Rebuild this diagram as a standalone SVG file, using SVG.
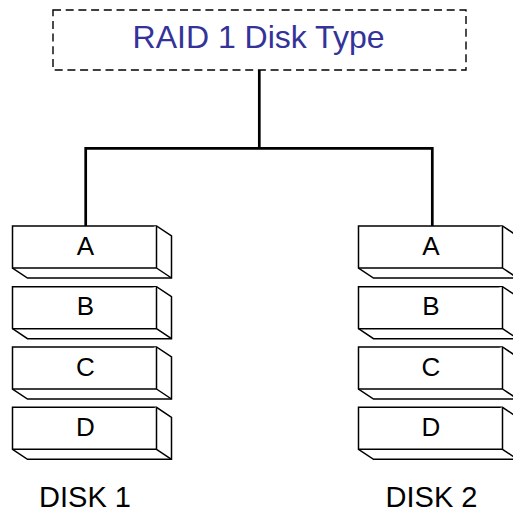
<svg xmlns="http://www.w3.org/2000/svg" width="513" height="514" viewBox="0 0 513 514">
<defs>
<style>
.blk{fill:#fff;stroke:#000;stroke-width:1.5;stroke-linejoin:miter}
.lbl{font-family:"Liberation Sans",Arial,sans-serif;font-size:26px;fill:#000;text-anchor:middle}
.cap{font-family:"Liberation Sans",Arial,sans-serif;font-size:29px;fill:#000;text-anchor:middle}
.conn{fill:none;stroke:#000;stroke-width:2.7}
</style>
<g id="block">
<path class="blk" d="M0,0 H144 L159,10 V52 H15 L0,42 Z"/>
<path class="blk" d="M0,42 H144 V0 M144,42 L159,52"/>
</g>
</defs>
<rect width="513" height="514" fill="#fff"/>
<g id="connectors">
<path class="conn" d="M259.3,70 V148.3 M85.7,226 V148.3 H432.3 V226"/>
</g>
<g id="title">
<rect x="53" y="10" width="413" height="60" fill="#fff" stroke="#000" stroke-width="1.4" stroke-dasharray="8,4.7"/>
<text x="258.5" y="48.3" font-family="'Liberation Sans',Arial,sans-serif" font-size="32" fill="#333399" text-anchor="middle">RAID 1 Disk Type</text>
</g>
<g id="disk1">
<g id="disk1-A"><use href="#block" x="12.5" y="226"/><text class="lbl" x="85.5" y="254.6">A</text></g>
<g id="disk1-B"><use href="#block" x="12.5" y="286.7"/><text class="lbl" x="85.5" y="315.3">B</text></g>
<g id="disk1-C"><use href="#block" x="12.5" y="347"/><text class="lbl" x="85.5" y="375.6">C</text></g>
<g id="disk1-D"><use href="#block" x="12.5" y="407.3"/><text class="lbl" x="85.5" y="435.9">D</text></g>
<text class="cap" x="85" y="506.7">DISK 1</text>
</g>
<g id="disk2">
<g id="disk2-A"><use href="#block" x="358.5" y="226"/><text class="lbl" x="431" y="254.6">A</text></g>
<g id="disk2-B"><use href="#block" x="358.5" y="286.7"/><text class="lbl" x="431" y="315.3">B</text></g>
<g id="disk2-C"><use href="#block" x="358.5" y="347"/><text class="lbl" x="431" y="375.6">C</text></g>
<g id="disk2-D"><use href="#block" x="358.5" y="407.3"/><text class="lbl" x="431" y="435.9">D</text></g>
<text class="cap" x="431.5" y="506.7">DISK 2</text>
</g>
</svg>
